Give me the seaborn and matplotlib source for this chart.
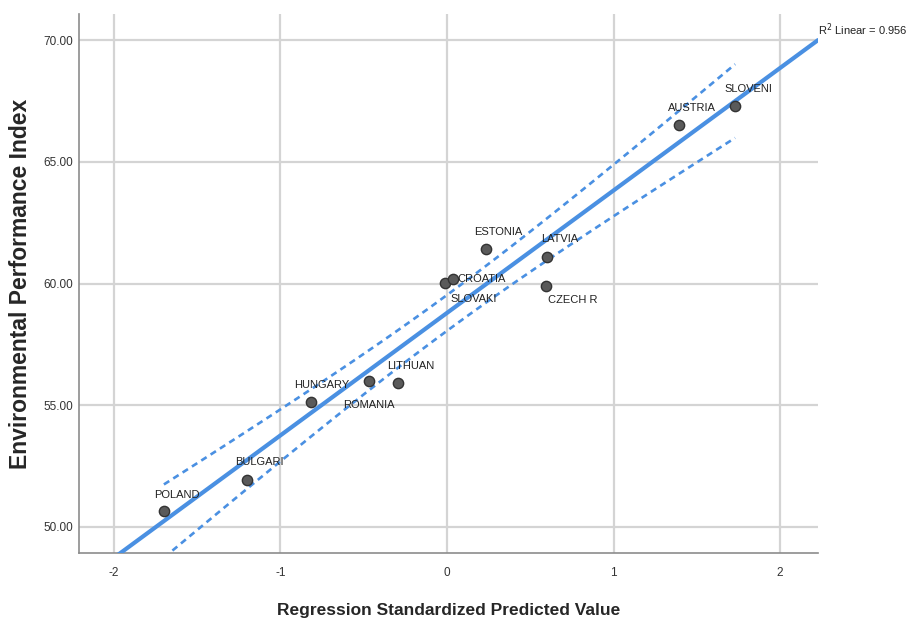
import numpy as np
import pandas as pd
import matplotlib
matplotlib.use('Agg')
import matplotlib.pyplot as plt
import seaborn as sns

# values
countries = ['POLAND', 'BULGARI', 'HUNGARY', 'ROMANIA', 'LITHUAN', 'SLOVAKI',
             'CROATIA', 'ESTONIA', 'LATVIA', 'CZECH R', 'AUSTRIA', 'SLOVENI']
pred_std = [-1.70, -1.20, -0.817, -0.468, -0.294, -0.01,
            0.036, 0.234, 0.60, 0.595, 1.393, 1.73]
epi = [50.66, 51.93, 55.13, 55.98, 55.90, 60.02,
       60.18, 61.42, 61.09, 59.90, 66.51, 67.29]
r2_text = 'R$^2$ Linear = 0.956'

df = pd.DataFrame({'country': countries, 'x': pred_std, 'y': epi})

# label offsets in pixels (right, up)
offsets = {'POLAND': (13, 16), 'BULGARI': (12, 18), 'HUNGARY': (11, 17),
           'ROMANIA': (0, -24), 'LITHUAN': (13, 17), 'SLOVAKI': (28, -16),
           'CROATIA': (29, 0), 'ESTONIA': (12, 17), 'LATVIA': (13, 18),
           'CZECH R': (27, -14), 'AUSTRIA': (13, 17), 'SLOVENI': (13, 17)}

sns.set_style('white')
plt.rcParams['font.family'] = ['Liberation Sans', 'DejaVu Sans']
plt.rcParams['axes.unicode_minus'] = False

fig = plt.figure(figsize=(9.12, 6.25), dpi=100)
ax = fig.add_axes([0.0866, 0.1152, 0.8104, 0.8624])

xlo, xhi = -2.21, 2.228
ylo, yhi = 48.93, 71.07

# linear fit and 95% mean confidence interval
x = df['x'].to_numpy()
y = df['y'].to_numpy()
n = len(x)
b1, b0 = np.polyfit(x, y, 1)
resid = y - (b0 + b1 * x)
s = np.sqrt((resid ** 2).sum() / (n - 2))
sxx = ((x - x.mean()) ** 2).sum()
t = 2.228
xs = np.linspace(x.min(), x.max(), 100)
half = t * s * np.sqrt(1 / n + (xs - x.mean()) ** 2 / sxx)
fit = b0 + b1 * xs

blue = '#4a90e2'
xfull = np.linspace(xlo, xhi, 50)
sns.lineplot(x=xfull, y=b0 + b1 * xfull, ax=ax, color=blue, linewidth=3.0, zorder=3)
sns.lineplot(x=xs, y=fit + half, ax=ax, color=blue, linewidth=1.9, zorder=3)
ax.lines[-1].set_dashes((2.4, 1.8))
sns.lineplot(x=xs, y=fit - half, ax=ax, color=blue, linewidth=1.9, zorder=3)
ax.lines[-1].set_dashes((2.4, 1.8))

sns.scatterplot(data=df, x='x', y='y', ax=ax, s=55, color='#5a5a5a',
                edgecolor='#333333', linewidth=1.0, zorder=4)

for c, xv, yv in zip(countries, pred_std, epi):
    dx, dy = offsets[c]
    ax.annotate(c, (xv, yv), xytext=(dx * 0.72, dy * 0.72), textcoords='offset points',
                ha='center', va='center', fontsize=8, color='#222222', zorder=5)

ax.set_xlim(xlo, xhi)
ax.set_ylim(ylo, yhi)
ax.set_xticks([-2, -1, 0, 1, 2])
ax.set_yticks([50, 55, 60, 65, 70])
ax.set_yticklabels(['50.00', '55.00', '60.00', '65.00', '70.00'])
ax.grid(True, color='#d4d4d4', linewidth=1.6)
ax.set_axisbelow(True)

for side in ['top', 'right']:
    ax.spines[side].set_visible(False)
for side in ['left', 'bottom']:
    ax.spines[side].set_color('#8c8c8c')
    ax.spines[side].set_linewidth(1.2)
ax.tick_params(axis='x', labelsize=8.5, colors='#333333', length=4,
               width=1.2, color='#bbbbbb', pad=6)
ax.tick_params(axis='y', labelsize=8.5, colors='#333333', length=2.5,
               width=1.2, color='#bbbbbb', pad=1.5)

ax.set_xlabel('Regression Standardized Predicted Value', fontsize=12.5,
              fontweight='bold', va='center')
ax.set_ylabel('Environmental Performance Index', fontsize=16.5,
              fontweight='bold', va='center')
ax.xaxis.set_label_coords(0.5, -0.1076)
ax.yaxis.set_label_coords(-0.0798, 0.5)

ax.text(1.0, 0.955, r2_text, transform=ax.transAxes, fontsize=8,
        ha='left', va='bottom', color='#222222')

fig.savefig('out.png', dpi=100)
